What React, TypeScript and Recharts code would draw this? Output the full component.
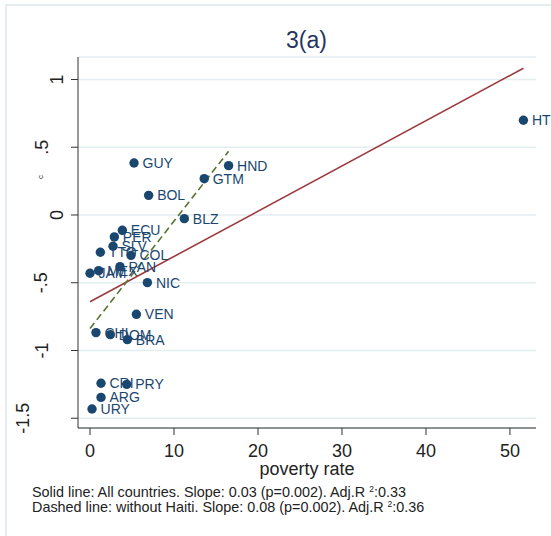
import { ScatterChart, Scatter, XAxis, YAxis, CartesianGrid, ReferenceLine } from 'recharts';

const countries = ['GUY', 'HND', 'GTM', 'BOL', 'BLZ', 'ECU', 'PER', 'SLV', 'TTO', 'COL', 'PAN', 'MEX', 'JAM', 'NIC', 'VEN', 'CHL', 'DOM', 'BRA', 'CRI', 'PRY', 'ARG', 'URY', 'HTI'];
const povertyRate = [5.24, 16.5, 13.6, 6.98, 11.23, 3.85, 2.9, 2.74, 1.23, 4.88, 3.57, 1.03, 0, 6.83, 5.52, 0.71, 2.42, 4.44, 1.31, 4.37, 1.31, 0.24, 51.6];
const residual = [0.384, 0.364, 0.268, 0.145, -0.027, -0.113, -0.162, -0.231, -0.275, -0.298, -0.381, -0.411, -0.43, -0.499, -0.733, -0.868, -0.883, -0.92, -1.242, -1.25, -1.346, -1.432, 0.699];

// fitted lines, endpoints
const fitAll = [{ x: 0, y: -0.64 }, { x: 51.6, y: 1.083 }];
const fitNoHaiti = [{ x: 0, y: -0.838 }, { x: 16.5, y: 0.47 }];

const xTicks = [0, 10, 20, 30, 40, 50];
const yTicks = [-1.5, -1, -0.5, 0, 0.5, 1];

const NAVY = '#1a476f';
const FONT = '"Liberation Sans", Arial, sans-serif';

const points = countries.map((name, i) => ({ name, x: povertyRate[i], y: residual[i] }));

const fmtY = (v: number) => (v === 0 ? '0' : (v < 0 ? '-' : '') + String(Math.abs(v)).replace(/^0/, ''));

// stata-ish placement of the vertical labels (depends on label length)
const yLabelShift: Record<number, number> = { 1: 12, 2: 26.5, 3: 28, 4: 46 };

function YTick(props: any) {
  const label = fmtY(props.payload.value);
  const cx = props.x - yLabelShift[label.length];
  return (
    <text
      x={cx}
      y={props.y}
      transform={`rotate(-90 ${cx} ${props.y})`}
      textAnchor="middle"
      dominantBaseline="central"
      fontSize={18}
      fontFamily={FONT}
      fill="#222"
    >
      {label}
    </text>
  );
}

function XTick(props: any) {
  return (
    <text x={props.x} y={props.y + 20} textAnchor="middle" fontSize={18} fontFamily={FONT} fill="#222">
      {props.payload.value}
    </text>
  );
}

function Dot(props: any) {
  const { cx, cy, payload } = props;
  return (
    <g>
      <circle cx={cx} cy={cy} r={4.7} fill={NAVY} />
      <text x={cx + 8.5} y={cy} dominantBaseline="central" fontSize={14} fontFamily={FONT} fill={NAVY}>
        {payload.name}
      </text>
    </g>
  );
}

export default function App() {
  return (
    <div style={{ position: 'absolute', left: 0, top: 0, width: 551, height: 536, overflow: 'hidden', background: '#fff' }}>
      <ScatterChart width={551} height={536} margin={{ top: 57, right: 15, bottom: 78, left: 8 }}>
        <CartesianGrid vertical={false} stroke="#e4edf0" strokeWidth={1.5} />
        <XAxis
          type="number"
          dataKey="x"
          domain={[-1.43, 53.1]}
          ticks={xTicks}
          height={30}
          tickSize={7}
          stroke="#333"
          tick={XTick}
        />
        <YAxis
          type="number"
          dataKey="y"
          domain={[-1.572, 1.166]}
          ticks={yTicks}
          width={70}
          tickSize={7}
          stroke="#333"
          tick={YTick}
        />
        <Scatter data={points} fill={NAVY} shape={Dot} isAnimationActive={false} />
        <ReferenceLine segment={fitAll} stroke="#9b3a3e" strokeWidth={1.6} ifOverflow="visible" />
        <ReferenceLine segment={fitNoHaiti} stroke="#55752f" strokeWidth={1.6} strokeDasharray="7 4" ifOverflow="visible" />
      </ScatterChart>
      <svg width={551} height={536} style={{ position: 'absolute', left: 0, top: 0, pointerEvents: 'none' }} fontFamily={FONT}>
        <rect x={6} y={5} width={600} height={600} fill="none" stroke="#e6edf1" strokeWidth={2} />
        <text x={306.5} y={48} textAnchor="middle" fontSize={23} fill="#26355f">3(a)</text>
        <text x={40} y={177} transform="rotate(-90 40 177)" textAnchor="middle" dominantBaseline="central" fontSize={8} fill="#222">c</text>
        <text x={307} y={475} textAnchor="middle" fontSize={18} fill="#222">poverty rate</text>
        <text x={32} y={497} fontSize={14.4} fill="#222">
          Solid line: All countries. Slope: 0.03 (p=0.002). Adj.R <tspan dy={-5} fontSize={8.5}>2</tspan>
          <tspan dy={5}>:0.33</tspan>
        </text>
        <text x={32} y={511.5} fontSize={14.4} fill="#222">
          Dashed line: without Haiti. Slope: 0.08 (p=0.002). Adj.R <tspan dy={-5} fontSize={8.5}>2</tspan>
          <tspan dy={5}>:0.36</tspan>
        </text>
      </svg>
    </div>
  );
}
